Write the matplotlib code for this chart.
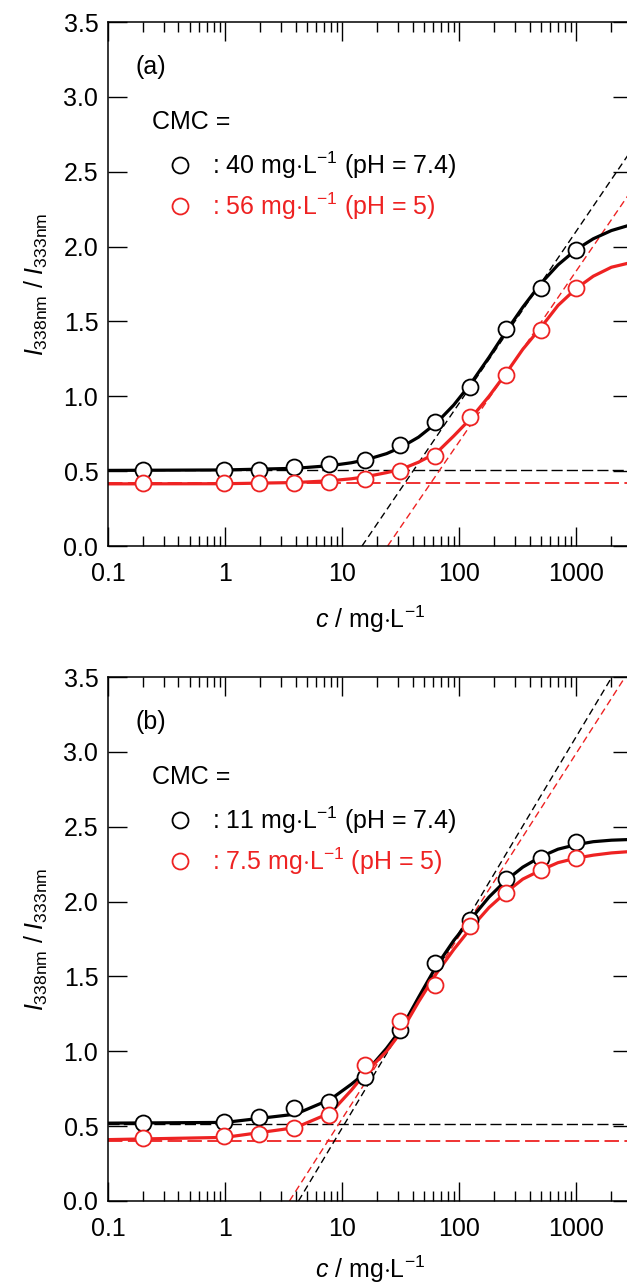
import matplotlib

matplotlib.use("Agg")
import matplotlib.pyplot as plt
from matplotlib.ticker import LogLocator, FixedLocator, NullFormatter

plt.rcParams["font.family"] = ["Liberation Sans", "DejaVu Sans"]
plt.rcParams["mathtext.fontset"] = "custom"
plt.rcParams["mathtext.rm"] = "Liberation Sans"
plt.rcParams["mathtext.it"] = "Liberation Sans:italic"

RED = "#ee2222"

# measured concentrations (mg/L)
conc = [0.2, 0.98, 1.95, 3.9, 7.8, 15.6, 31.25, 62.5, 125, 250, 500, 1000]

# panel (a) ratios
a_ph74 = [0.51, 0.51, 0.51, 0.53, 0.55, 0.575, 0.675, 0.83, 1.06, 1.45, 1.72, 1.98]
a_ph5 = [0.42, 0.42, 0.42, 0.423, 0.43, 0.445, 0.50, 0.60, 0.86, 1.14, 1.44, 1.72]

# panel (b) ratios
b_ph74 = [0.523, 0.53, 0.563, 0.62, 0.663, 0.83, 1.142, 1.59, 1.877, 2.149, 2.29, 2.40]
b_ph5 = [0.42, 0.434, 0.447, 0.486, 0.575, 0.908, 1.205, 1.443, 1.837, 2.055, 2.21, 2.29]

# fitted curves
fit_x = [0.1, 1, 4, 8, 12, 16, 24, 32, 45, 64, 90, 125, 180, 250, 350, 500, 700, 1000, 1400, 2000, 3000]
fit_a_ph74 = [0.505, 0.508, 0.519, 0.537, 0.556, 0.576, 0.617, 0.66, 0.727, 0.822, 0.942, 1.082,
              1.26, 1.43, 1.595, 1.754, 1.878, 1.98, 2.052, 2.107, 2.148]
fit_a_ph5 = [0.415, 0.416, 0.424, 0.436, 0.449, 0.463, 0.49, 0.512, 0.56, 0.622, 0.735, 0.85,
             1.0, 1.15, 1.314, 1.46, 1.607, 1.72, 1.802, 1.862, 1.895]
fit_b_ph74 = [0.52, 0.525, 0.58, 0.68, 0.78, 0.86, 1.02, 1.15, 1.36, 1.57, 1.74, 1.88,
              2.03, 2.14, 2.23, 2.30, 2.35, 2.38, 2.40, 2.41, 2.415]
fit_b_ph5 = [0.41, 0.425, 0.49, 0.59, 0.74, 0.86, 1.0, 1.13, 1.33, 1.52, 1.68, 1.82,
             1.96, 2.06, 2.15, 2.21, 2.26, 2.29, 2.31, 2.325, 2.335]

# baselines and tangent lines: (x0, x1), (y0, y1)
base_x = [0.1, 3000]
a_base = {"ph74": 0.508, "ph5": 0.419}
b_base = {"ph74": 0.517, "ph5": 0.403}
a_tan_ph74 = ([14.8, 3000], [0.0, 2.65])
a_tan_ph5 = ([24.5, 3000], [0.0, 2.38])
b_tan_ph74 = ([4.24, 2020], [0.0, 3.5])
b_tan_ph5 = ([3.55, 2620], [0.0, 3.5])

PANELS = [
    {
        "tag": "(a)",
        "y74": a_ph74, "y5": a_ph5,
        "fit74": fit_a_ph74, "fit5": fit_a_ph5,
        "base": a_base, "tan74": a_tan_ph74, "tan5": a_tan_ph5,
        "cmc74": "40", "cmc5": "56",
        "xpad": 13,
    },
    {
        "tag": "(b)",
        "y74": b_ph74, "y5": b_ph5,
        "fit74": fit_b_ph74, "fit5": fit_b_ph5,
        "base": b_base, "tan74": b_tan_ph74, "tan5": b_tan_ph5,
        "cmc74": "11", "cmc5": "7.5",
        "xpad": 9,
    },
]

FS = 18
W, H = 627, 1287


def px_box(left, right, top, bottom):
    return [left / W, 1 - bottom / H, (right - left) / W, (bottom - top) / H]


def draw_panel(ax, p):
    tan_dash = (5, 3)
    base_dash = (8, 3)
    ax.plot(base_x, [p["base"]["ph74"]] * 2, color="black", lw=1.0, dashes=base_dash, zorder=1)
    ax.plot(base_x, [p["base"]["ph5"]] * 2, color=RED, lw=1.3, dashes=base_dash, zorder=1)
    ax.plot(*p["tan74"], color="black", lw=1.0, dashes=tan_dash, zorder=1)
    ax.plot(*p["tan5"], color=RED, lw=1.0, dashes=tan_dash, zorder=1)

    ax.plot(fit_x, p["fit74"], color="black", lw=2.3, zorder=2, solid_capstyle="round")
    ax.plot(fit_x, p["fit5"], color=RED, lw=2.3, zorder=2, solid_capstyle="round")

    h74, = ax.plot(conc, p["y74"], ls="none", marker="o", ms=11.5, mfc="white", mec="black", mew=1.3, zorder=3)
    h5, = ax.plot(conc, p["y5"], ls="none", marker="o", ms=11.5, mfc="white", mec=RED, mew=1.3, zorder=3)

    ax.set_xscale("log")
    ax.set_xlim(0.1, 3000)
    ax.set_ylim(0, 3.5)
    ax.xaxis.set_major_locator(FixedLocator([0.1, 1, 10, 100, 1000]))
    ax.xaxis.set_minor_locator(LogLocator(base=10, subs=range(2, 10)))
    ax.xaxis.set_minor_formatter(NullFormatter())
    ax.set_xticklabels(["0.1", "1", "10", "100", "1000"])
    ax.set_yticks([0, 0.5, 1.0, 1.5, 2.0, 2.5, 3.0, 3.5])
    ax.set_yticklabels(["0.0", "0.5", "1.0", "1.5", "2.0", "2.5", "3.0", "3.5"])
    ax.tick_params(which="both", direction="in", top=True, right=True, labelsize=FS, width=1.0)
    ax.tick_params(axis="x", which="major", length=14, pad=11.5)
    ax.tick_params(axis="x", which="minor", length=7)
    ax.tick_params(axis="y", which="major", length=14, pad=7)
    for s in ax.spines.values():
        s.set_linewidth(1.1)

    ax.set_xlabel(r"$c$ / mg$\cdot$L$^{\mathrm{-1}}$", fontsize=FS, labelpad=p["xpad"])
    ax.set_ylabel(r"$I_{\mathrm{338nm}}$ / $I_{\mathrm{333nm}}$", fontsize=FS, labelpad=10)

    ax.text(0.053, 0.914, p["tag"], transform=ax.transAxes, fontsize=FS, va="center", ha="left")
    ax.text(0.084, 0.809, "CMC =", transform=ax.transAxes, fontsize=FS, va="center", ha="left")
    labels = [
        ": " + p["cmc74"] + r" mg$\cdot$L$^{-1}$ (pH = 7.4)",
        ": " + p["cmc5"] + r" mg$\cdot$L$^{-1}$ (pH = 5)",
    ]
    ax.legend([h74, h5], labels, loc="upper left", bbox_to_anchor=(0.1135, 0.7573),
              frameon=False, fontsize=FS, handlelength=1.0, handletextpad=0.78,
              labelspacing=0.39, borderpad=0, borderaxespad=0, labelcolor=["black", RED])


def main():
    fig = plt.figure(figsize=(W / 100, H / 100), dpi=100)
    ax_a = fig.add_axes(px_box(108, 632, 22, 546))
    ax_b = fig.add_axes(px_box(108, 632, 677, 1201))
    draw_panel(ax_a, PANELS[0])
    draw_panel(ax_b, PANELS[1])
    fig.savefig("out.png", dpi=100)
    plt.close(fig)


if __name__ == "__main__":
    main()
